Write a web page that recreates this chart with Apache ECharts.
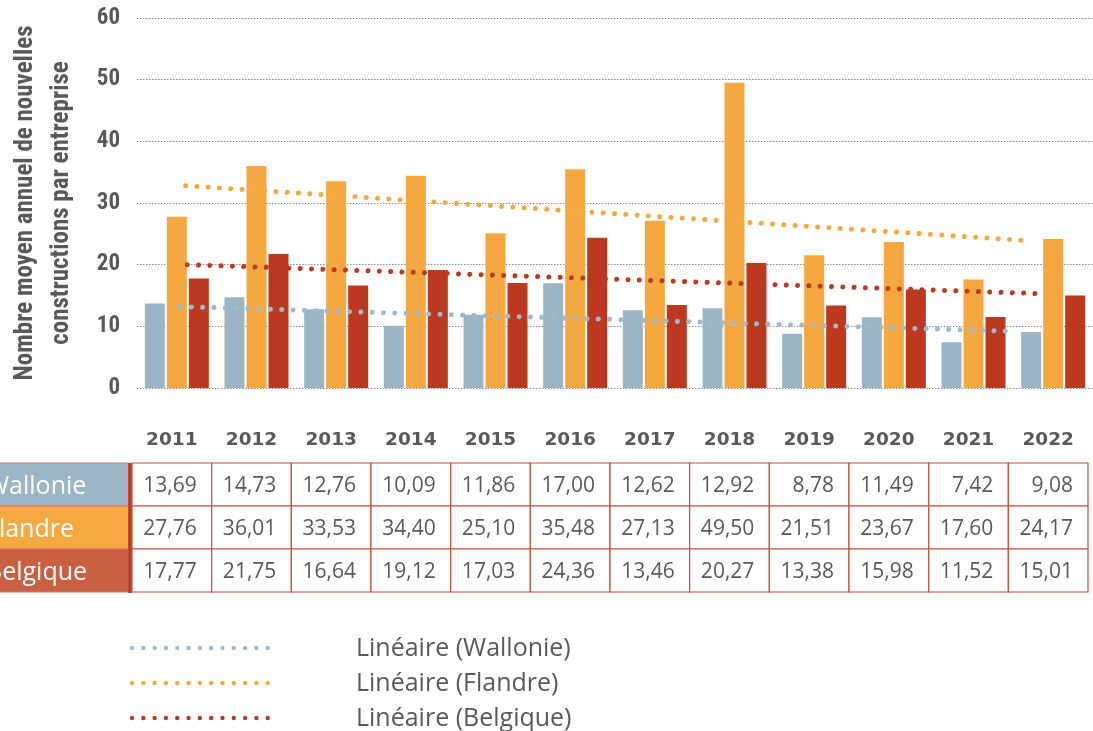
<!DOCTYPE html>
<html>
<head>
<meta charset="utf-8">
<script src="https://cdn.jsdelivr.net/npm/echarts@6/dist/echarts.min.js"></script>
<style>
html,body{margin:0;padding:0;background:#fff;}
#c{width:1093px;height:731px;}
</style>
</head>
<body>
<div id="c"></div>
<script>
const years = ['2011','2012','2013','2014','2015','2016','2017','2018','2019','2020','2021','2022'];
const wallonie = [13.69,14.73,12.76,10.09,11.86,17.00,12.62,12.92,8.78,11.49,7.42,9.08];
const flandre  = [27.76,36.01,33.53,34.40,25.10,35.48,27.13,49.50,21.51,23.67,17.60,24.17];
const belgique = [17.77,21.75,16.64,19.12,17.03,24.36,13.46,20.27,13.38,15.98,11.52,15.01];
// trend lines: [category position, value]
const trendWallonie = [[0.04,13.2],[10.46,9.2]];
const trendFlandre  = [[0.11,32.8],[10.67,23.9]];
const trendBelgique = [[0.13,20.0],[10.83,15.3]];
const rowLabels = ['Wallonie','Flandre','Belgique'];
const legendNames = ['Linéaire (Wallonie)','Linéaire (Flandre)','Linéaire (Belgique)'];
const yTitle = 'Nombre moyen annuel de nouvelles\nconstructions par entreprise';

const cWal = '#9bb5c7', cFla = '#f5a83f', cBel = '#bc381f';
const trendColors = ['#9fbacb', '#f6a93e', '#bb3a20'];
const rowBg = ['#9cb5c7','#f5a940','#c96042'];
const txt = '#595959';
const narrow = '"Liberation Sans Narrow", "Arial Narrow", "Roboto Condensed", sans-serif';

const dotStyle = (c) => ({color: c, width: 5, type: [0.01, 11.3], cap: 'round'});

const chart = echarts.init(document.getElementById('c'), null, {renderer: 'canvas'});
const option = {
  animation: false,
  backgroundColor: '#fff',
  grid: {left: 134.3, right: -18.1, top: 18, bottom: 343, containLabel: false},
  xAxis: [{
    type: 'category', data: years,
    axisLine: {show: false}, axisTick: {show: false},
    axisLabel: {margin: 43, padding: [0,10,0,0], color: txt, fontFamily: 'DejaVu Sans', fontWeight: 'bold', fontSize: 18.5}
  }, {
    type: 'value', min: -0.5, max: 11.5, show: false
  }],
  yAxis: {
    type: 'value', min: 0, max: 60, interval: 10,
    axisLine: {show: false}, axisTick: {show: false},
    axisLabel: {margin: 17, color: txt, fontFamily: narrow, fontWeight: 'bold', fontSize: 23},
    splitLine: {lineStyle: {color: '#8c8c8c', type: [1.5, 1.5], width: 1}},
    name: yTitle, nameLocation: 'middle', nameRotate: 90, nameGap: 57,
    nameTextStyle: {color: txt, fontFamily: narrow, fontWeight: 'bold', fontSize: 25, lineHeight: 36, align: 'center'}
  },
  series: [
    {name: 'Wallonie', type: 'bar', data: wallonie, barWidth: 20, barGap: '10%', itemStyle: {color: cWal}},
    {name: 'Flandre', type: 'bar', data: flandre, barWidth: 20, barGap: '10%', itemStyle: {color: cFla}},
    {name: 'Belgique', type: 'bar', data: belgique, barWidth: 20, barGap: '10%', itemStyle: {color: cBel}},
    {name: legendNames[0], type: 'line', xAxisIndex: 1, data: trendWallonie, symbol: 'none', lineStyle: dotStyle(trendColors[0])},
    {name: legendNames[1], type: 'line', xAxisIndex: 1, data: trendFlandre, symbol: 'none', lineStyle: dotStyle(trendColors[1])},
    {name: legendNames[2], type: 'line', xAxisIndex: 1, data: trendBelgique, symbol: 'none', lineStyle: dotStyle(trendColors[2])}
  ]
};
chart.setOption(option);

// data table below the chart, aligned on the category axis
const xs = years.map((y, i) => chart.convertToPixel({xAxisIndex: 0}, i));
const half = (xs[1] - xs[0]) / 2;
const rowTop = [463, 506, 549];
const rowH = 43;
const series = [wallonie, flandre, belgique];
const fmt = v => v.toFixed(2).replace('.', ',');
const g = [];
rowLabels.forEach((lab, r) => {
  g.push({type: 'rect', shape: {x: -20, y: rowTop[r], width: 148.5, height: rowH}, style: {fill: rowBg[r], stroke: '#d27a68', lineWidth: 1}, z: 10});
  g.push({type: 'text', z: 11, style: {text: lab, x: -14, y: rowTop[r] + rowH/2 + 2, fill: '#fff', font: '25px "Open Sans"', textAlign: 'left', textVerticalAlign: 'middle', align: 'left', verticalAlign: 'middle'}});
});
series.forEach((arr, r) => {
  arr.forEach((v, i) => {
    const cx = xs[i] - 5;
    const left = Math.max(cx - half, 131.7);
    const right = cx + half;
    g.push({type: 'rect', shape: {x: left, y: rowTop[r], width: right - left, height: rowH}, style: {fill: '#fff', stroke: '#cb4b36', lineWidth: 1.2}, z: 10});
    g.push({type: 'text', z: 11, style: {text: fmt(v), x: right - 15, y: rowTop[r] + rowH/2 + 2, fill: txt, font: '21px "Open Sans"', textAlign: 'right', textVerticalAlign: 'middle', align: 'right', verticalAlign: 'middle'}});
  });
});
g.push({type: 'rect', shape: {x: 128.3, y: 463, width: 3.4, height: 130}, style: {fill: '#b83a22'}, z: 12});

// legend for the trend lines
const legY = [649, 684, 719];
legendNames.forEach((name, k) => {
  g.push({type: 'line', z: 11, shape: {x1: 132, y1: legY[k] - 1, x2: 268, y2: legY[k] - 1},
    style: {stroke: trendColors[k], lineWidth: 4.4, lineDash: [0.01, 11.3], lineCap: 'round'}});
  g.push({type: 'text', z: 11, style: {text: name, x: 356, y: legY[k], fill: txt, font: '25px "Open Sans"', textAlign: 'left', textVerticalAlign: 'middle', align: 'left', verticalAlign: 'middle'}});
});
chart.setOption({graphic: g});
</script>
</body>
</html>
